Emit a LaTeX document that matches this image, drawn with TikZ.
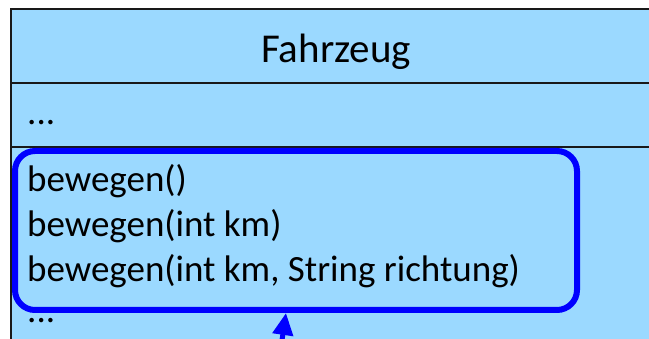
\documentclass[tikz,border=0pt]{standalone}
\usepackage{fontspec}
\setmainfont{Carlito}
\usetikzlibrary{arrows.meta, positioning, calc}
\definecolor{clsblue}{RGB}{155,217,255}

\begin{document}
\begin{tikzpicture}[x=1pt,y=1pt, txt/.style={inner sep=0pt,anchor=base west,font=\fontsize{37}{45}\selectfont}, ttl/.style={inner sep=0pt,anchor=base,font=\fontsize{41}{48}\selectfont}, sepline/.style={draw=black!90,line width=1.6pt}, hilite/.style={draw=blue,line width=6pt,rounded corners=20pt,minimum width=562pt,minimum height=159pt}, arr/.style={-{Triangle[length=22pt,width=20pt]},line width=5pt,blue}]
  \useasboundingbox (0,0) rectangle (649,339);
  \clip (0,0) rectangle (649,339);
  \fill[clsblue] (11,330) rectangle (670,-20);
  \draw[sepline] (670,330) -- (11,330) -- (11,-20);
  \draw[sepline] (11,256) -- (670,256);
  \draw[sepline] (11,192) -- (670,192);
  \node[ttl](name) at (336,276){Fahrzeug};
  \node[txt](attr) at (27,214){...};
  \node[txt](m1) at (27,147){bewegen()};
  \node[txt](m2) at (27,102){bewegen(int km)};
  \node[txt](m3) at (27,57){bewegen(int km, String richtung)};
  \node[txt](more) at (27,16){...};
  \node[hilite](sel) at (296,108.5){};
  \coordinate (tail) at (281,-8);
  \draw[arr](tail)--([xshift=-10pt]sel.south);
\end{tikzpicture}
\end{document}
